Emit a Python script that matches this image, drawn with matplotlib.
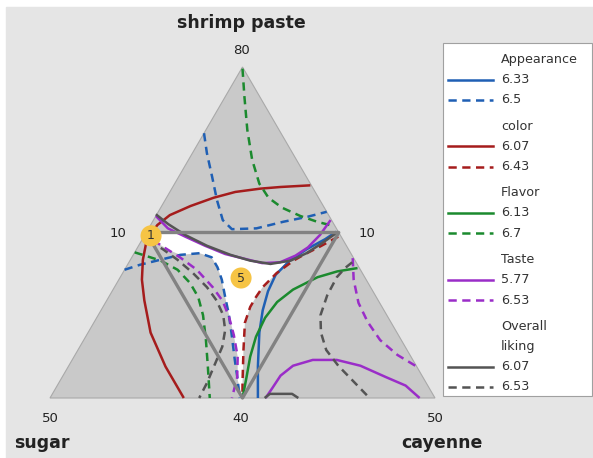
import numpy as np
import matplotlib.pyplot as plt
from matplotlib.patches import Rectangle, Polygon
from matplotlib.lines import Line2D

# contour traces
# every point is (shrimp paste %, cayenne %); sugar = 100 - shrimp - cayenne
appearance_633 = [(60.1, 29.7), (59.2, 29.0), (58.0, 27.7), (56.6, 26.6), (54.9, 26.0),
                  (52.9, 26.2), (50.6, 26.8), (47.9, 27.8), (43.8, 29.7), (40.0, 31.6)]
appearance_65_a = [(72.0, 10.0), (69.6, 11.5), (66.7, 13.5), (63.9, 15.4), (61.5, 17.2),
                   (60.4, 18.7), (60.5, 21.2), (61.3, 23.6), (61.9, 25.8), (62.5, 27.5)]
appearance_65_b = [(55.5, 10.0), (56.1, 11.3), (56.7, 13.1), (57.3, 14.9), (57.5, 16.8),
                   (57.0, 18.3), (55.8, 19.5), (54.3, 20.7), (52.2, 22.1), (50.3, 23.4),
                   (47.9, 24.9), (44.6, 26.9), (42.2, 28.4), (40.0, 29.7)]
color_607 = [(65.7, 24.2), (65.5, 21.2), (65.3, 19.2), (64.9, 16.8), (64.2, 14.9),
             (63.2, 13.0), (62.1, 11.4), (60.9, 10.7), (59.1, 10.5), (56.7, 11.3),
             (54.3, 12.4), (51.8, 13.9), (47.9, 16.5), (43.8, 20.1), (40.0, 23.9)]
color_643 = [(59.5, 30.2), (58.3, 28.9), (57.3, 27.7), (56.6, 27.0), (55.1, 26.0),
             (53.4, 25.4), (52.2, 25.3), (51.0, 25.3), (49.1, 25.7), (45.8, 27.2),
             (41.8, 29.1), (40.0, 30.0)]
flavor_613 = [(55.7, 34.1), (55.3, 32.2), (54.6, 30.5), (53.1, 28.7), (51.6, 27.8),
              (49.7, 27.5), (47.4, 27.7), (45.0, 28.3), (42.4, 29.2), (40.0, 30.0)]
flavor_67_a = [(79.8, 10.1), (76.4, 12.0), (72.4, 14.3), (68.8, 16.6), (65.9, 18.8),
               (64.2, 20.6), (63.0, 22.6), (62.0, 25.0), (61.3, 27.1), (60.8, 29.0)]
flavor_67_b = [(57.6, 10.0), (57.2, 11.3), (56.6, 13.2), (55.5, 15.5), (53.9, 17.6),
               (52.2, 19.3), (50.0, 20.9), (47.0, 22.7), (43.8, 24.5), (40.0, 26.6)]
taste_577_a = [(62.0, 10.0), (60.5, 12.0), (59.5, 14.3), (58.4, 16.9), (57.4, 19.5),
               (56.8, 21.9), (56.3, 23.9), (56.4, 25.7), (57.2, 26.9), (58.2, 27.7),
               (59.7, 28.2), (61.5, 28.4)]
taste_577_b = [(40.0, 32.4), (41.2, 32.5), (42.7, 32.6), (43.9, 33.3), (44.6, 35.0),
               (44.6, 37.5), (43.9, 40.3), (42.5, 43.7), (41.5, 46.2), (40.0, 48.4)]
taste_653_a = [(59.1, 11.2), (58.5, 12.2), (57.0, 15.0), (55.5, 17.5), (53.4, 20.2),
               (51.7, 22.1), (49.8, 23.7), (47.6, 25.3), (45.0, 27.0), (42.5, 28.2),
               (40.0, 28.9)]
taste_653_b = [(56.9, 33.0), (54.3, 34.4), (51.5, 36.3), (49.2, 38.4), (47.0, 40.8),
               (45.2, 43.5), (43.8, 46.2)]
overall_607_a = [(62.2, 9.9), (61.0, 11.8), (59.7, 14.2), (58.4, 17.1), (57.3, 20.1),
                 (56.6, 22.5), (56.2, 24.8), (56.6, 26.7), (57.5, 27.9), (58.7, 28.9),
                 (60.1, 29.9)]
overall_607_b = [(40.0, 32.3), (40.5, 32.6), (40.5, 34.9), (40.0, 35.8)]
overall_653_a = [(59.1, 10.8), (58.5, 11.7), (58.0, 12.7), (56.7, 14.9), (55.1, 17.3),
                 (53.4, 19.6), (51.8, 21.4), (50.0, 23.0), (48.2, 24.1), (46.2, 24.8),
                 (44.0, 25.1), (41.8, 25.4), (40.0, 25.5)]
overall_653_b = [(56.4, 33.2), (55.7, 32.8), (54.6, 32.5), (52.4, 32.6), (50.0, 33.1),
                 (47.9, 34.2), (45.8, 35.8), (43.9, 38.0), (41.8, 40.8), (40.0, 43.2)]

# feasible (white) area, same units
white_region = [(60.0, 10.0), (60.0, 13.5), (59.7, 14.2), (58.4, 17.1), (57.3, 20.1),
                (56.6, 22.5), (56.2, 24.8), (56.4, 26.4), (55.1, 26.0), (53.4, 25.4),
                (52.2, 25.3), (51.0, 25.3), (49.1, 25.7), (45.8, 27.2), (41.8, 29.1),
                (40.0, 30.0), (42.2, 28.4), (45.0, 27.0), (47.6, 25.3), (50.3, 23.4),
                (52.2, 22.1), (54.3, 20.7), (55.8, 19.5), (57.0, 18.3), (57.5, 16.8),
                (57.3, 14.9), (57.8, 13.6), (58.5, 12.2), (59.1, 11.2)]

# constrained design region (shrimp, cayenne)
region_vertices = [(60.0, 10.0), (60.0, 30.0), (40.0, 30.0)]

point_shrimp = [59.6, 54.5]
point_cayenne = [10.7, 22.6]
point_labels = ["1", "5"]

responses = ["Appearance", "color", "Flavor", "Taste", "Overall\nliking"]
levels = [("6.33", "6.5"), ("6.07", "6.43"), ("6.13", "6.7"), ("5.77", "6.53"), ("6.07", "6.53")]
colors = ["#1f5fb4", "#a51c1c", "#1b8a2e", "#9a2dc8", "#545454"]
low_lines = [[appearance_633], [color_607], [flavor_613], [taste_577_a, taste_577_b],
             [overall_607_a, overall_607_b]]
high_lines = [[appearance_65_a, appearance_65_b], [color_643], [flavor_67_a, flavor_67_b],
              [taste_653_a, taste_653_b], [overall_653_a, overall_653_b]]

DASH = (0, (3.3, 2.2))
LW = 1.8
W, H = 593, 458


def to_xy(pts):
    s = np.array([p[0] for p in pts])
    c = np.array([p[1] for p in pts])
    a = (s - 40) / 40
    return (c - 10) / 40 + a / 2, a


def fx(px):
    return px / W


def fy(py):
    return 1 - py / H


fig = plt.figure(figsize=(W / 100, H / 100), dpi=100)
fig.patch.set_facecolor("white")
fig.add_artist(Rectangle((fx(6), 0), 1, fy(7), transform=fig.transFigure,
                         color="#e5e5e5", zorder=-10))

ax = fig.add_axes([fx(50), 60 / H, 385 / W, 331 / H])
ax.set_xlim(0, 1)
ax.set_ylim(0, 1)
ax.axis("off")

ax.add_patch(Polygon([[0, 0], [1, 0], [0.5, 1]], closed=True, facecolor="#c9c9c9",
                     edgecolor="#a9a9a9", lw=0.8, zorder=0, clip_on=False))

wx, wy = to_xy(white_region)
ax.fill(wx, wy, color="white", lw=0, zorder=1)

for col, lows, highs in zip(colors, low_lines, high_lines):
    for seg in lows:
        x, y = to_xy(seg)
        ax.plot(x, y, color=col, lw=LW, zorder=2, clip_on=False, solid_capstyle="butt")
    for seg in highs:
        x, y = to_xy(seg)
        ax.plot(x, y, color=col, lw=LW, ls=DASH, zorder=2, clip_on=False)

rx, ry = to_xy(region_vertices + region_vertices[:1])
ax.plot(rx, ry, color="#828282", lw=2.4, zorder=4, clip_on=False)

px_, py_ = to_xy(list(zip(point_shrimp, point_cayenne)))
ax.scatter(px_, py_, s=230, color="#f6c445", edgecolor="none", zorder=6, clip_on=False)
for x, y, lab in zip(px_, py_, point_labels):
    ax.text(x, y, lab, ha="center", va="center", fontsize=9, color="#333333", zorder=7)

# axis labels
tc = "#222222"
fig.text(fx(241), fy(28.5), "shrimp paste", ha="center", va="baseline",
         fontsize=12.5, fontweight="bold", color=tc)
fig.text(fx(241), fy(53.5), "80", ha="center", va="baseline", fontsize=9.5, color=tc)
fig.text(fx(118), fy(237), "10", ha="center", va="baseline", fontsize=9.5, color=tc)
fig.text(fx(367), fy(237), "10", ha="center", va="baseline", fontsize=9.5, color=tc)
fig.text(fx(50), fy(422), "50", ha="center", va="baseline", fontsize=9.5, color=tc)
fig.text(fx(241), fy(422), "40", ha="center", va="baseline", fontsize=9.5, color=tc)
fig.text(fx(435), fy(422), "50", ha="center", va="baseline", fontsize=9.5, color=tc)
fig.text(fx(14), fy(448), "sugar", ha="left", va="baseline",
         fontsize=12.5, fontweight="bold", color=tc)
fig.text(fx(442), fy(448), "cayenne", ha="center", va="baseline",
         fontsize=12.5, fontweight="bold", color=tc)

# legend box
fig.add_artist(Rectangle((fx(443), fy(396)), (592 - 443) / W, (396 - 43) / H,
                         transform=fig.transFigure, facecolor="white",
                         edgecolor="#a0a0a0", lw=0.8))
row = 0
for g, (name, (lo, hi), col) in enumerate(zip(responses, levels, colors)):
    for part in name.split("\n"):
        y = 59.3 + 20.3 * row + 5.8 * g
        fig.text(fx(501), fy(y), part, ha="left", va="center", fontsize=9.2, color="#333333")
        row += 1
    for lab, ls in ((lo, "-"), (hi, DASH)):
        y = 59.3 + 20.3 * row + 5.8 * g
        fig.add_artist(Line2D([fx(448), fx(493)], [fy(y), fy(y)], transform=fig.transFigure,
                              color=col, lw=LW, ls=ls))
        fig.text(fx(501), fy(y), lab, ha="left", va="center", fontsize=9.2, color="#333333")
        row += 1

fig.savefig("out.png", dpi=100)
